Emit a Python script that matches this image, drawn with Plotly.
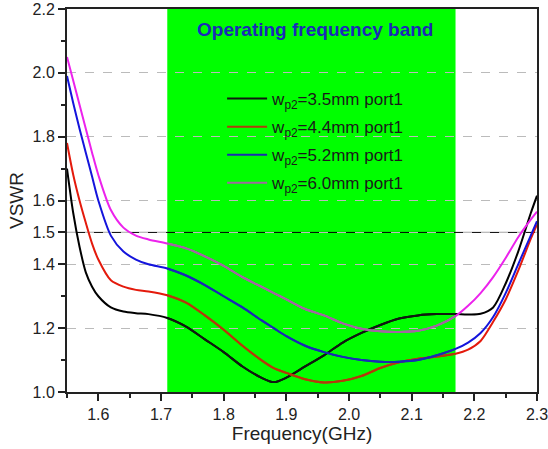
import plotly.graph_objects as go

freq = [1.55, 1.56, 1.57, 1.58, 1.59, 1.60, 1.62, 1.64, 1.66, 1.68, 1.71, 1.74, 1.77,
        1.80, 1.83, 1.86, 1.88, 1.90, 1.93, 1.96, 1.99, 2.02, 2.05, 2.08, 2.11, 2.14,
        2.17, 2.19, 2.21, 2.23, 2.25, 2.27, 2.29, 2.30]

vswr_35 = [1.70, 1.56, 1.455, 1.375, 1.33, 1.30, 1.265, 1.252, 1.247, 1.244, 1.232, 1.205, 1.165,
           1.125, 1.08, 1.045, 1.031, 1.045, 1.08, 1.115, 1.155, 1.185, 1.21, 1.23, 1.240, 1.244,
           1.244, 1.243, 1.245, 1.265, 1.34, 1.44, 1.56, 1.615]
vswr_44 = [1.78, 1.68, 1.60, 1.53, 1.465, 1.415, 1.35, 1.33, 1.32, 1.315, 1.303, 1.28, 1.24,
           1.195, 1.145, 1.10, 1.075, 1.06, 1.04, 1.03, 1.035, 1.05, 1.075, 1.093, 1.104, 1.111,
           1.12, 1.133, 1.16, 1.22, 1.29, 1.38, 1.48, 1.525]
vswr_52 = [1.99, 1.905, 1.825, 1.75, 1.675, 1.60, 1.49, 1.44, 1.415, 1.40, 1.387, 1.365, 1.335,
           1.30, 1.265, 1.225, 1.20, 1.175, 1.145, 1.125, 1.11, 1.10, 1.095, 1.095, 1.10, 1.115,
           1.135, 1.155, 1.185, 1.235, 1.31, 1.40, 1.49, 1.535]
vswr_60 = [2.05, 1.975, 1.90, 1.825, 1.75, 1.68, 1.57, 1.515, 1.49, 1.478, 1.465, 1.45, 1.425,
           1.395, 1.36, 1.33, 1.31, 1.29, 1.26, 1.24, 1.215, 1.198, 1.19, 1.188, 1.192, 1.208,
           1.238, 1.27, 1.31, 1.36, 1.42, 1.485, 1.54, 1.565]

series_names = ["w<sub>p2</sub>=3.5mm port1", "w<sub>p2</sub>=4.4mm port1",
                "w<sub>p2</sub>=5.2mm port1", "w<sub>p2</sub>=6.0mm port1"]
series_values = [vswr_35, vswr_44, vswr_52, vswr_60]
colors_out = ["#000000", "#e41a0c", "#1414dc", "#ec22ec"]
colors_in = ["#101a10", "#b03c0c", "#1a2cb0", "#9e6a9e"]

band = [1.71, 2.17]
y_ticks = [1.0, 1.2, 1.4, 1.5, 1.6, 1.8, 2.0, 2.2]
x_ticks = [1.6, 1.7, 1.8, 1.9, 2.0, 2.1, 2.2, 2.3]

FONT = "Liberation Sans, Arial, sans-serif"

fig = go.Figure()

for i, (name, vals, c_out, c_in) in enumerate(zip(series_names, series_values, colors_out, colors_in)):
    fig.add_trace(go.Scatter(x=freq, y=vals, mode="lines", showlegend=False, legendgroup=f"g{i}",
                             line=dict(color=c_out, width=2, shape="spline", smoothing=0.8),
                             hoverinfo="skip"))
    xi = [f for f in freq if band[0] <= f <= band[1]]
    yi = [v for f, v in zip(freq, vals) if band[0] <= f <= band[1]]
    fig.add_trace(go.Scatter(x=xi, y=yi, mode="lines", name=name, legendgroup=f"g{i}",
                             line=dict(color=c_in, width=2, shape="spline", smoothing=0.8)))

fig.add_shape(type="rect", xref="x", yref="paper", x0=band[0], x1=band[1], y0=0, y1=1,
              fillcolor="#00ff00", line=dict(width=0), layer="between")
fig.add_shape(type="line", xref="paper", yref="y", x0=0, x1=1, y0=1.5, y1=1.5,
              line=dict(color="#000000", width=1), layer="between")

fig.add_annotation(x=1.945, y=2.135, xref="x", yref="y", text="<b>Operating frequency band</b>",
                   showarrow=False, font=dict(size=19, color="#1a2ab8", family=FONT))

fig.update_layout(
    width=548, height=449,
    margin=dict(l=67, r=11, t=9, b=57),
    paper_bgcolor="white", plot_bgcolor="white",
    font=dict(family=FONT, size=16, color="#222222"),
    legend=dict(x=0.33, y=0.812, xanchor="left", yanchor="top", bgcolor="rgba(0,0,0,0)",
                font=dict(size=17, color="#1a1a1a"), itemwidth=40,
                traceorder="grouped", tracegroupgap=3),
    showlegend=True,
)

fig.update_xaxes(range=[1.55, 2.3], tickvals=x_ticks, ticktext=[f"{v:.1f}" for v in x_ticks],
                 ticks="outside", ticklen=7, tickwidth=1.5, tickcolor="#222",
                 ticklabeloverflow="allow",
                 minor=dict(dtick=0.05, tick0=1.55, ticks="outside", ticklen=4, tickcolor="#222"),
                 showline=True, linecolor="#222", linewidth=2, mirror=True, showgrid=False,
                 zeroline=False, automargin=False,
                 title=dict(text="Frequency(GHz)", font=dict(size=19), standoff=3))
fig.update_yaxes(range=[1.0, 2.2], tickvals=y_ticks, ticktext=[f"{v:.1f}" for v in y_ticks],
                 ticks="outside", ticklen=7, tickwidth=1.5, tickcolor="#222",
                 ticklabeloverflow="allow",
                 minor=dict(dtick=0.1, tick0=1.0, ticks="outside", ticklen=4, tickcolor="#222",
                            showgrid=False),
                 showline=True, linecolor="#222", linewidth=2, mirror=True,
                 showgrid=True, gridcolor="#bbbbbb", griddash="dash", gridwidth=1,
                 zeroline=False, automargin=False,
                 title=dict(text="VSWR", font=dict(size=19), standoff=4))

fig.write_html("out.html", config={"displayModeBar": False},
               post_script="document.body.style.margin='0';document.body.style.overflow='hidden';")
